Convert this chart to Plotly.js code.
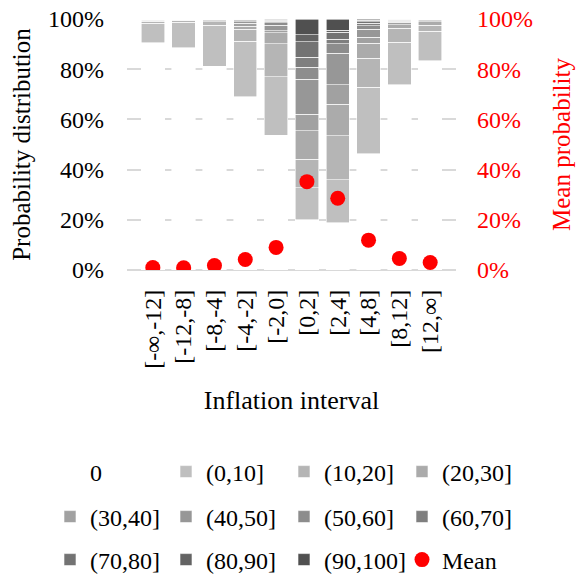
<!DOCTYPE html>
<html>
<head>
<meta charset="utf-8">
<script src="https://cdn.plot.ly/plotly-3.0.1.min.js"></script>
<style>
  body { margin: 0; background: #fff; }
  #chart { width: 579px; height: 575px; }
</style>
</head>
<body>
<div id="chart"></div>
<script>
    var intervals = ['[-∞,-12]', '[-12,-8]', '[-8,-4]', '[-4,-2]', '[-2,0]',
                     '[0,2]', '[2,4]', '[4,8]', '[8,12]', '[12,∞]'];

    // share of forecasters (%) per probability bin, for each interval
    var bins = ['0', '(0,10]', '(10,20]', '(20,30]', '(30,40]', '(40,50]',
                '(50,60]', '(60,70]', '(70,80]', '(80,90]', '(90,100]'];
    var p0     = [90.5, 88.6, 81.2, 69.0, 53.6, 20.0, 18.8, 46.4, 73.8, 83.4];
    var p10    = [7.8, 10.1, 16.4, 22.2, 23.3, 12.7, 17.1, 26.4, 17.0, 11.8];
    var p20    = [0.8, 0.6, 1.3, 4.8, 13.3, 11.5, 17.5, 11.6, 5.6, 2.4];
    var p30    = [0.4, 0.3, 0.5, 1.1, 4.3, 11.3, 12.7, 5.9, 1.3, 1.3];
    var p40    = [0.2, 0.2, 0.3, 1.2, 0.9, 6.6, 7.7, 2.4, 1.0, 0.5];
    var p50    = [0.1, 0.1, 0.15, 0.7, 2.2, 13.9, 12.6, 3.3, 0.5, 0.3];
    var p60    = [0.1, 0.05, 0.1, 0.4, 1.0, 4.7, 3.7, 1.3, 0.3, 0.1];
    var p70    = [0.05, 0.02, 0.02, 0.3, 0.6, 4.0, 1.8, 1.1, 0.2, 0.1];
    var p80    = [0.02, 0.01, 0.01, 0.15, 0.3, 6.3, 2.8, 0.6, 0.1, 0.05];
    var p90    = [0.02, 0.01, 0.01, 0.1, 0.3, 2.7, 0.8, 0.5, 0.1, 0.03];
    var p100   = [0.01, 0.01, 0.01, 0.05, 0.2, 6.3, 4.5, 0.5, 0.1, 0.02];
    var meanProb = [1.0, 0.9, 1.8, 4.2, 9.0, 35.2, 28.6, 11.9, 4.6, 3.0];

    var series = [p0, p10, p20, p30, p40, p50, p60, p70, p80, p90, p100];
    var colors = ['#ffffff', '#bfbfbf', '#b5b5b5', '#ababab', '#a1a1a1', '#979797',
                  '#8d8d8d', '#7f7f7f', '#737373', '#636363', '#505050'];

    var FONT = 'Liberation Serif, Times New Roman, serif';

    // legend grid: 4 columns x 3 rows, one small legend per entry
    var legCols = [50, 166, 284, 402];
    var legRows = [472, 517, 560];

    function legendName(i) {
        return i === 0 ? 'legend' : 'legend' + (i + 1);
    }

    var data = series.map(function (vals, i) {
        return {
            x: intervals,
            y: vals,
            name: bins[i],
            type: 'bar',
            legend: legendName(i),
            marker: {
                color: colors[i],
                line: {color: '#ffffff', width: 0.6}
            },
            hoverinfo: 'name+y'
        };
    });

    data.push({
        x: intervals,
        y: meanProb,
        name: 'Mean',
        type: 'scatter',
        mode: 'markers',
        yaxis: 'y2',
        legend: legendName(11),
        marker: {color: '#ff0000', size: 15}
    });

    var layout = {
        width: 579,
        height: 575,
        paper_bgcolor: '#ffffff',
        plot_bgcolor: '#ffffff',
        barmode: 'stack',
        bargap: 0.24,
        margin: {t: 19, r: 123, l: 127, b: 304.5},
        font: {family: FONT, size: 24, color: '#000'},
        showlegend: true,
        xaxis: {
            tickangle: -90,
            tickfont: {size: 24},
            ticklabelstandoff: 14,
            showgrid: false,
            zeroline: false,
            title: {text: 'Inflation interval', font: {size: 26}, standoff: 22}
        },
        yaxis: {
            range: [0, 100],
            dtick: 20,
            ticksuffix: '%',
            showgrid: true,
            gridcolor: '#d9d9d9',
            gridwidth: 1.5,
            zeroline: true,
            zerolinecolor: '#d9d9d9',
            zerolinewidth: 1.5,
            ticklabelstandoff: 22,
            tickfont: {size: 24},
            title: {text: 'Probability distribution', font: {size: 25}, standoff: 10}
        },
        yaxis2: {
            overlaying: 'y',
            side: 'right',
            range: [0, 100],
            dtick: 20,
            ticksuffix: '%',
            showgrid: false,
            zeroline: false,
            ticklabelstandoff: 20,
            tickfont: {size: 24, color: '#ff0000'},
            title: {text: 'Mean probability', font: {size: 25, color: '#ff0000'}, standoff: 20}
        }
    };

    for (var k = 0; k < 12; k++) {
        layout[legendName(k)] = {
            orientation: 'h',
            xref: 'container',
            yref: 'container',
            x: legCols[k % 4] / 579,
            y: 1 - legRows[Math.floor(k / 4)] / 575,
            xanchor: 'left',
            yanchor: 'middle',
            bgcolor: 'rgba(0,0,0,0)',
            font: {family: FONT, size: 24, color: '#000'}
        };
    }

    Plotly.newPlot('chart', data, layout, {displayModeBar: false});
</script>
</body>
</html>
